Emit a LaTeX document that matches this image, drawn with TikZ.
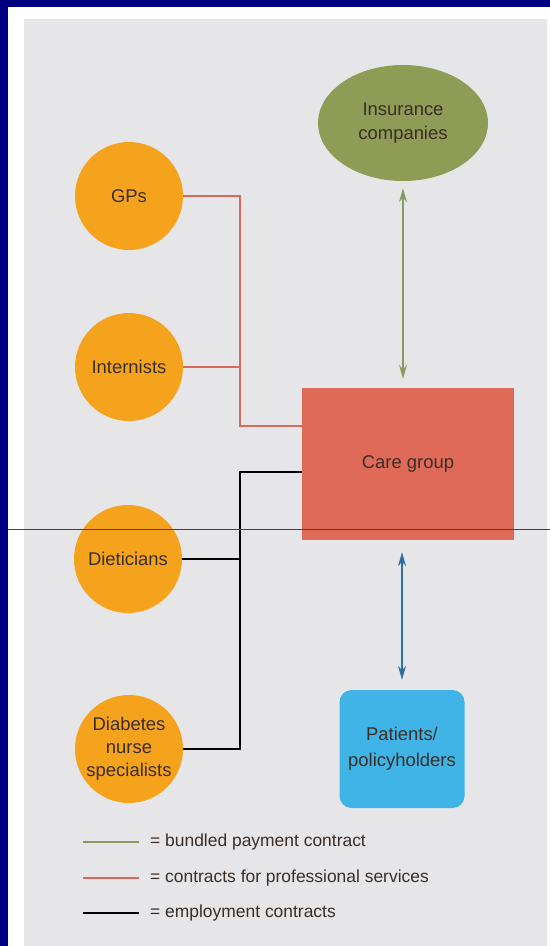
\documentclass[tikz,border=0pt]{standalone}
\usepackage{fontspec}
\setmainfont{Liberation Sans}
\usepackage{xcolor}
\usepackage{tikz}
\usetikzlibrary{arrows.meta,positioning,shapes.geometric}
\definecolor{navyframe}{HTML}{000080}
\definecolor{panelgrey}{HTML}{E6E6E8}
\definecolor{amber}{HTML}{F5A31C}
\definecolor{olive}{HTML}{8E9C55}
\definecolor{salmon}{HTML}{DF6A57}
\definecolor{sky}{HTML}{40B4E6}
\definecolor{ink}{HTML}{3A2E28}
\definecolor{proline}{HTML}{D8695C}
\definecolor{payline}{HTML}{8A9A62}
\definecolor{patline}{HTML}{2C6EA6}
\definecolor{cutline}{HTML}{3E3E6A}

\begin{document}
\begin{tikzpicture}[x=1bp,y=-1bp,
  every node/.style={font=\fontsize{18.5}{23}\selectfont,text=ink,align=center},
  provider/.style={circle,fill=amber,minimum size=108bp,inner sep=0pt},
  legendtext/.style={anchor=west,inner sep=0pt,font=\fontsize{17.5}{20}\selectfont},
  twoway/.style={{Stealth[length=14bp,width=8bp]}-{Stealth[length=14bp,width=8bp]}}]
  \useasboundingbox (0,0) rectangle (550,946);
  \fill[white] (0,0) rectangle (550,946);
  \fill[panelgrey] (24,19) rectangle (547,946);
  \fill[navyframe] (0,0) rectangle (550,7);
  \fill[navyframe] (0,0) rectangle (8,946);
  % providers
  \node[provider] (gps) at (129,196) {GPs};
  \node[provider] (int) at (129,367) {Internists};
  \node[provider] (diet) at (128,559) {Dieticians};
  \node[provider] (dns) at (129,749) {Diabetes\\nurse\\specialists};
  % right column
  \node[ellipse,fill=olive,minimum width=170bp,minimum height=116bp,inner sep=0pt,
    font=\fontsize{18.5}{24}\selectfont] (ins) at (403,123) {Insurance\\companies};
  \node[rectangle,fill=salmon,minimum width=212bp,minimum height=152bp] (care) at (408,464) {Care group};
  \node[rectangle,rounded corners=12bp,fill=sky,minimum width=125bp,minimum height=118bp,
    font=\fontsize{18.5}{26}\selectfont] (pat) at (402,749) {Patients/\\policyholders};
  % contracts
  \coordinate (rj) at (240,426);
  \coordinate (bj) at (240,472);
  \draw[proline,line width=1.1bp] (gps.east) -| (rj) -- (rj -| care.west);
  \draw[proline,line width=1.1bp] (int.east) -- (int.east -| rj);
  \draw[black,line width=1.4bp] (care.west |- bj) -- (bj) |- (dns.east);
  \draw[black,line width=1.4bp] (diet.east) -- (diet.east -| bj);
  \draw[payline,line width=1.3bp,twoway,shorten <=7bp,shorten >=9bp]
    (ins.south) -- (ins.south |- care.north);
  \draw[patline,line width=1.6bp,twoway,shorten <=12bp,shorten >=10bp]
    (care.south -| pat.north) -- (pat.north);
  % cut line
  \draw[cutline,line width=0.8bp] (8,529) -- (550,529);
  % legend
  \coordinate (la) at (83,842);
  \coordinate (lb) at (83,878);
  \coordinate (lc) at (83,913);
  \draw[payline,line width=1.2bp] (la) -- ++(56,0) coordinate (la2);
  \draw[proline,line width=1.2bp] (lb) -- ++(56,0) coordinate (lb2);
  \draw[black,line width=1.2bp] (lc) -- ++(56,0) coordinate (lc2);
  \node[legendtext] (ta) at ([xshift=11bp]la2) {= bundled payment contract};
  \node[legendtext] (tb) at ([xshift=11bp]lb2) {= contracts for professional services};
  \node[legendtext] (tc) at ([xshift=11bp]lc2) {= employment contracts};
\end{tikzpicture}
\end{document}
